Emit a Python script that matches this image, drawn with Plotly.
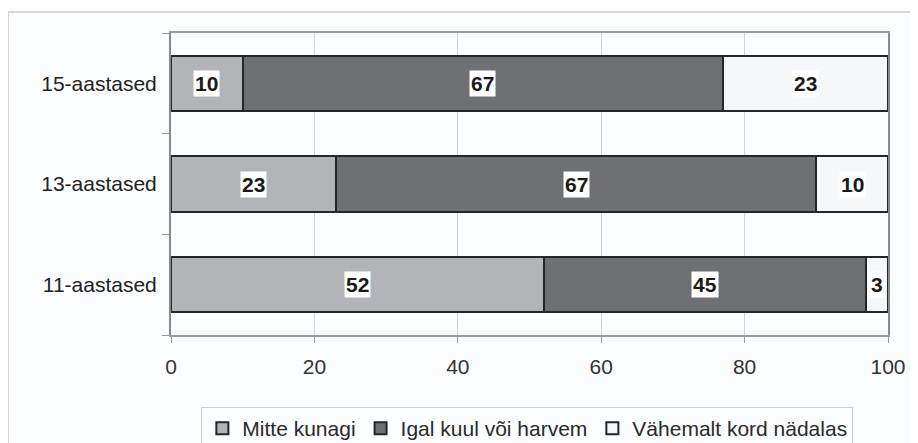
import plotly.graph_objects as go

groups = ["11-aastased", "13-aastased", "15-aastased"]
series_names = ["Mitte kunagi", "Igal kuul või harvem", "Vähemalt kord nädalas"]
mitte_kunagi = [52, 23, 10]
igal_kuul = [45, 67, 67]
vahemalt = [3, 10, 23]
x_ticks = [0, 20, 40, 60, 80, 100]

series_values = [mitte_kunagi, igal_kuul, vahemalt]
colors = ["#b3b4b8", "#6f7074", "#f6f7f9"]

# page body has an 8px margin, so the figure is drawn 8px in from the window edge
W, H = 910, 435
L, R, T, B = 163, 30, 25, 108
pw, ph = W - L - R, H - T - B

fig = go.Figure()
for name, vals, col in zip(series_names, series_values, colors):
    fig.add_trace(go.Bar(
        y=groups, x=vals, name=name, orientation="h",
        marker=dict(color=col, line=dict(color="#262626", width=2)),
        hoverinfo="x+name",
    ))

annotations = []
for gi, g in enumerate(groups):
    cum = 0
    for vals in series_values:
        v = vals[gi]
        annotations.append(dict(
            x=cum + v / 2, y=g, xref="x", yref="y", text=str(v), showarrow=False,
            font=dict(family="Arial, Liberation Sans", size=21, color="#1a1a1a", weight="bold"),
            bgcolor="white", borderpad=1,
        ))
        cum += v

fx0 = (0 - L) / pw
fy1 = (H - B - 4) / ph
shapes = [dict(type="rect", xref="paper", yref="paper", x0=fx0, x1=1.3, y0=-1, y1=fy1,
               line=dict(color="#d6d6d6", width=2), fillcolor="rgba(0,0,0,0)", layer="below")]

fig.update_layout(
    width=W, height=H,
    margin=dict(l=L, r=R, t=T, b=B, autoexpand=False),
    barmode="stack", bargap=0.45,
    paper_bgcolor="#fbfcfe", plot_bgcolor="#fbfcfe",
    font=dict(family="Arial, Liberation Sans", size=21, color="#2a2a2a"),
    xaxis=dict(range=[0, 100], tickvals=x_ticks, showgrid=True, gridcolor="#d3d3d3", gridwidth=1,
               showline=True, linecolor="#9a9a9a", linewidth=2, mirror=True,
               ticks="outside", ticklen=6, tickcolor="#9a9a9a", zeroline=False,
               ticklabelstandoff=6, automargin=False,
               tickfont=dict(size=21, color="#333333")),
    yaxis=dict(type="category", categoryorder="array", categoryarray=groups,
               showline=True, linecolor="#8a8a8a", linewidth=2, mirror=True,
               ticks="outside", ticklen=7, tickcolor="#9a9a9a", tickson="boundaries",
               ticklabelstandoff=8, automargin=False,
               showgrid=False, tickfont=dict(size=21, color="#222222")),
    legend=dict(orientation="h", x=0.497, xanchor="center", y=(H - B - 399) / ph, yanchor="top",
                bordercolor="#cfcfcf", borderwidth=1, bgcolor="#fbfcfe",
                font=dict(size=21, color="#2a2a2a"), itemwidth=30, traceorder="normal"),
    annotations=annotations,
    shapes=shapes,
    showlegend=True,
)

fig.write_html("out.html")
